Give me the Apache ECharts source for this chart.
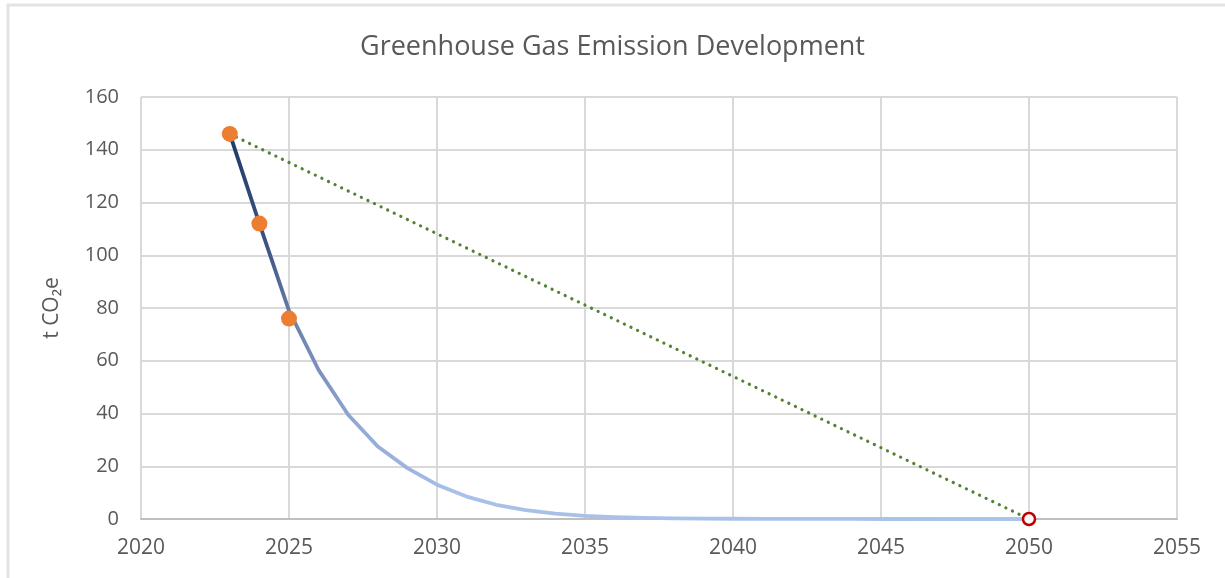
<!DOCTYPE html>
<html>
<head>
<meta charset="utf-8">
<script src="https://cdn.jsdelivr.net/npm/echarts@6/dist/echarts.min.js"></script>
<style>html,body{margin:0;padding:0;background:#fff;}#c{width:1225px;height:578px;}</style>
</head>
<body>
<div id="c"></div>
<script>
const titleText = 'Greenhouse Gas Emission Development';
const yAxisName = 't CO₂e';
const years = [2023,2024,2025,2026,2027,2028,2029,2030,2031,2032,2033,2034,2035,2036,2037,2038,2039,2040,2041,2042,2043,2044,2045,2046,2047,2048,2049,2050];
const pathValues = [146,112,79,56.5,39.5,27.5,19.3,13,8.5,5.4,3.4,2,1.2,0.7,0.4,0.25,0.15,0.1,0.05,0.03,0.02,0.01,0,0,0,0,0,0];
const actualYears = [2023,2024,2025];
const actualValues = [146,112,76];
const targetYears = [2023,2050];
const targetValues = [146,0];
const goalYear = [2050];
const goalValue = [0];

const chart = echarts.init(document.getElementById('c'), null, {renderer:'canvas'});
const zip = (a,b) => a.map((v,i)=>[v,b[i]]);
const labelStyle = {color:'#595959', fontFamily:'Open Sans', fontSize:20};
chart.setOption({
  animation:false,
  backgroundColor:'#ffffff',
  graphic:[
    {type:'polyline', shape:{points:[[8,600],[8,5],[1240,5]]}, style:{stroke:'#E3E3E3', lineWidth:3, fill:null}, silent:true}
  ],
  title:{text:titleText, left:'center', top:29, textStyle:{color:'#595959', fontFamily:'Open Sans', fontWeight:'normal', fontSize:27}},
  grid:{left:141, right:48, top:97, bottom:59, containLabel:false},
  xAxis:{type:'value', min:2020, max:2055, interval:5,
    axisLine:{show:true, lineStyle:{color:'#BFBFBF', width:2}},
    axisTick:{show:false},
    axisLabel:Object.assign({margin:19, formatter:v=>String(v)}, labelStyle, {fontSize:21}),
    splitLine:{show:true, lineStyle:{color:'#D9D9D9', width:2}}},
  yAxis:{type:'value', min:0, max:160, interval:20,
    name:yAxisName, nameLocation:'middle', nameGap:78, nameRotate:90,
    nameTextStyle:{color:'#595959', fontFamily:'Open Sans', fontSize:21},
    axisLine:{show:false}, axisTick:{show:false},
    axisLabel:Object.assign({margin:22}, labelStyle),
    splitLine:{show:true, lineStyle:{color:'#D9D9D9', width:2}}},
  series:[
    {type:'line', data:zip(targetYears,targetValues), symbol:'none', z:2,
      lineStyle:{color:'#548235', width:3.2, type:[0.1,7.2], cap:'round'}},
    {type:'line', data:zip(years,pathValues), symbol:'none', smooth:false, z:3,
      lineStyle:{width:3.8, join:'round', color:new echarts.graphic.LinearGradient(0,0,1,0,[
        {offset:0,color:'#1F3864'},{offset:0.05,color:'#3e5583'},{offset:0.08,color:'#6a80aa'},
        {offset:0.16,color:'#91a9d4'},{offset:0.28,color:'#a7c0e8'},{offset:1,color:'#aac4ec'}])}},
    {type:'scatter', data:zip(actualYears,actualValues), symbol:'circle', symbolSize:16, z:5,
      itemStyle:{color:'#ED7D31', opacity:1}},
    {type:'scatter', data:zip(goalYear,goalValue), symbol:'circle', symbolSize:12, z:6,
      itemStyle:{color:'#ffffff', borderColor:'#C00000', borderWidth:2.5, opacity:1}}
  ]
});
</script>
</body>
</html>
